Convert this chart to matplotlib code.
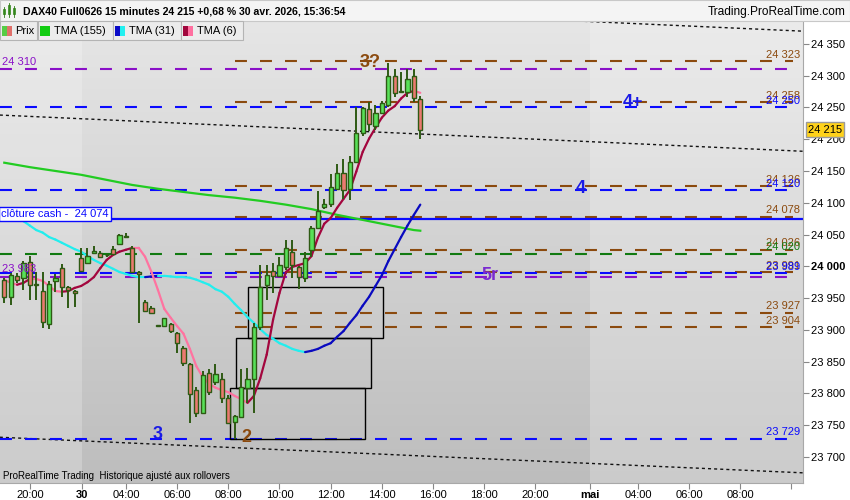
import matplotlib
matplotlib.use('Agg')
import matplotlib.pyplot as plt
import matplotlib.transforms as mtransforms
from matplotlib.collections import LineCollection
from matplotlib.patches import Rectangle
from matplotlib.colors import LinearSegmentedColormap
import numpy as np

plt.rcParams['font.family'] = ['Liberation Sans', 'DejaVu Sans']
plt.rcParams['lines.scale_dashes'] = False

# 15 minute bars, bar 0 = 19:00 on 29 Apr, last bar = 15:30 on 30 Apr
opens = [23979, 23952, 23985, 23982, 24007, 23971, 23961, 23909, 23977, 23997,
         23968, 23961, 24013, 24005, 24021, 24021, 24018, 24027, 24035, 24046,
         24029, 23991, 23944, 23935, 23906, 23906, 23909, 23895, 23872, 23847,
         23806, 23769, 23832, 23818, 23823, 23793, 23755, 23763, 23809, 23823,
         23905, 23971, 23993, 23985, 23999, 24023, 23999, 23982, 24026, 24060,
         24093, 24098, 24122, 24147, 24122, 24164, 24210, 24248, 24221, 24241,
         24254, 24300, 24274, 24274, 24300, 24263]
highs = [23982, 23990, 23990, 24008, 24016, 23991, 23991, 23977, 23988, 24004,
         23969, 23963, 24029, 24029, 24032, 24024, 24020, 24032, 24051, 24052,
         24032, 23993, 23947, 23938, 23908, 23919, 23911, 23897, 23874, 23848,
         23810, 23835, 23838, 23847, 23832, 23798, 23766, 23838, 23840, 23911,
         24002, 24002, 24005, 24015, 24041, 24041, 24001, 24023, 24063, 24119,
         24106, 24145, 24161, 24169, 24174, 24251, 24251, 24259, 24254, 24260,
         24320, 24310, 24306, 24310, 24310, 24268]
lows = [23942, 23939, 23974, 23963, 23947, 23947, 23903, 23902, 23960, 23952,
        23935, 23936, 23993, 24004, 24020, 24013, 24015, 24018, 24034, 24045,
        23990, 23911, 23928, 23926, 23905, 23906, 23895, 23863, 23843, 23753,
        23763, 23768, 23798, 23813, 23785, 23752, 23729, 23761, 23785, 23769,
        23900, 23947, 23958, 23983, 23994, 23982, 23964, 23975, 24015, 24059,
        24090, 24093, 24120, 24106, 24104, 24163, 24205, 24213, 24215, 24240,
        24251, 24267, 24272, 24267, 24259, 24200]
closes = [23952, 23986, 23979, 24005, 23971, 23972, 23912, 23972, 23982, 23968,
          23963, 23958, 23993, 24016, 24024, 24015, 24017, 24019, 24049, 24047,
          23991, 23988, 23930, 23927, 23907, 23919, 23898, 23879, 23848, 23799,
          23769, 23829, 23802, 23831, 23793, 23753, 23765, 23810, 23823, 23905,
          23968, 23986, 23985, 24002, 24029, 24002, 23983, 24013, 24060, 24087,
          24098, 24125, 24147, 24120, 24164, 24210, 24249, 24224, 24241, 24257,
          24300, 24272, 24276, 24295, 24265, 24215]

tma6 = [23979, 23974, 23971, 23974, 23980, 23980, 23977, 23969, 23961, 23960,
        23961, 23966, 23969, 23975, 23983, 23997, 24010, 24018, 24023, 24026,
        24029, 24029, 24015, 23991, 23963, 23933, 23919, 23906, 23894, 23870,
        23843, 23826, 23815, 23809, 23805, 23802, 23796, 23791, 23785, 23796,
        23824, 23861, 23916, 23958, 23991, 23999, 24002, 24005, 24016, 24045,
        24067, 24076, 24092, 24106, 24120, 24149, 24180, 24201, 24218, 24234,
        24245, 24252, 24264, 24273, 24276, 24273]
tma31 = [24090, 24084, 24077, 24071, 24064, 24057, 24053, 24046, 24042, 24037,
         24032, 24027, 24023, 24016, 24010, 24005, 24001, 23996, 23991, 23988,
         23985, 23983, 23983, 23984, 23985, 23985, 23984, 23983, 23983, 23982,
         23979, 23975, 23971, 23964, 23960, 23952, 23941, 23931, 23920, 23911,
         23901, 23892, 23886, 23879, 23875, 23870, 23867, 23865, 23867, 23870,
         23875, 23879, 23889, 23898, 23911, 23923, 23938, 23952, 23969, 23986,
         24008, 24027, 24046, 24064, 24081, 24097]
tma155_bar = [0, 4, 8, 12, 16, 20, 24, 28, 32, 36, 40, 44, 48, 52, 56, 60, 64, 65]
tma155 = [24163, 24156, 24150, 24144, 24136, 24128, 24122, 24117, 24112, 24108,
          24103, 24097, 24090, 24081, 24073, 24065, 24057, 24056]

tick_pos = [4, 12.1, 19, 27, 35, 43, 51, 59, 67, 75, 83, 91.5, 99, 107, 115, 123]
tick_labels = ['20:00', '30', '04:00', '06:00', '08:00', '10:00', '12:00', '14:00',
               '16:00', '18:00', '20:00', 'mai', '04:00', '06:00', '08:00', '']

brown_levels = [24323, 24258, 24126, 24078, 24026, 23991, 23927, 23904]
blue_levels = [24250, 24120, 23989, 23729]
purple_levels = [24310, 23983]
green_levels = [24020]
cash_close = 24074
last_price = 24215

chan_x = [-0.7, 124.8]
chan_top = [24427, 24370]
chan_mid = [24238, 24181]
chan_low = [23731, 23675]

box_left = [38.1, 36.2, 35.2]
box_right = [59.2, 57.3, 56.3]
box_low = [23887, 23808, 23728]
box_high = [23967, 23887, 23808]

wave_text = ['3?', '4+', '4', '5r', '3', '2']
wave_bar = [57.1, 98.2, 90.0, 75.9, 24.0, 37.8]
wave_price = [24321, 24257, 24123, 23986, 23736, 23730]

BROWN = '#8b4a0e'
BLUE = '#0a0aff'
PURPLE = '#8a10c8'
GREEN = '#117a11'
WAVE_COL = {'3?': '#8b4a0e', '4+': '#1a1ae6', '4': '#1a1ae6', '5r': '#7a2ad0',
            '3': '#1a1ae6', '2': '#8b4a0e'}


def fmt(v):
    v = int(round(v))
    return f"{v // 1000} {v % 1000:03d}"


fig = plt.figure(figsize=(8.5, 5), dpi=100, facecolor='white')
ax = fig.add_axes([0, 17 / 500, 803 / 850, 462 / 500])
XMIN, XMAX = -0.67, 124.8
YMIN, YMAX = 23659, 24386

# background gradient + lighter out-of-day bands
cmap = LinearSegmentedColormap.from_list('bg', ['#bdbdbd', '#e6e6e6'])
ax.imshow(np.linspace(0, 1, 256).reshape(-1, 1), extent=[XMIN, XMAX, YMIN, YMAX],
          origin='lower', aspect='auto', cmap=cmap, zorder=0)
ax.axvspan(XMIN, 12.1, color='white', alpha=0.22, lw=0, zorder=0.5)
ax.axvspan(91.5, XMAX, color='white', alpha=0.22, lw=0, zorder=0.5)

# channel lines
for ys in (chan_top, chan_mid, chan_low):
    ax.plot(chan_x, ys, color='#111111', lw=1, dashes=(2.2, 2.2), zorder=2)

# horizontal levels
LEND = 123.2
dash = (8.6, 9.4)
for v in brown_levels:
    ax.plot([36.0, LEND], [v, v], color=BROWN, lw=1.5, dashes=dash, zorder=2)
for v in purple_levels:
    ax.plot([XMIN, LEND], [v, v], color=PURPLE, lw=1.5, dashes=dash, zorder=2)
for v in green_levels:
    ax.plot([XMIN, LEND], [v, v], color=GREEN, lw=1.5, dashes=dash, zorder=2)
for v in blue_levels:
    ax.plot([XMIN, LEND], [v, v], color=BLUE, lw=1.5, dashes=dash, zorder=2)
ax.axhline(cash_close, color=BLUE, lw=1.6, zorder=2.5)

# boxes
for l, r, lo, hi in zip(box_left, box_right, box_low, box_high):
    ax.add_patch(Rectangle((l, lo), r - l, hi - lo, fill=False, ec='black', lw=1, zorder=2.2))

# TMA 155
ax.plot(tma155_bar, tma155, color='#22cc22', lw=1.6, zorder=3)


def two_tone(vals, up, down):
    x = np.arange(len(vals))
    segs = [[(x[i], vals[i]), (x[i + 1], vals[i + 1])] for i in range(len(vals) - 1)]
    cols = [up if vals[i + 1] > vals[i] else down for i in range(len(vals) - 1)]
    ax.add_collection(LineCollection(segs, colors=cols, linewidths=1.6, zorder=3,
                                     capstyle='round'))


two_tone(tma31, '#0a0ac0', '#22eeee')

# candles
idx = np.arange(len(closes))
WICK = '#2e5a14'
ax.vlines(idx, lows, highs, color=WICK, lw=1.4, zorder=4)
for i in idx:
    o, c = opens[i], closes[i]
    col = '#58e058' if c >= o else '#ea7a70'
    ax.add_patch(Rectangle((i - 0.34, min(o, c)), 0.68, max(abs(c - o), 1.2),
                           fc=col, ec=WICK, lw=1.0, zorder=4.5))

two_tone(tma6, '#a3063e', '#ff73a0')

# right-side level labels
tb = mtransforms.blended_transform_factory(ax.transAxes, ax.transData)
for v in brown_levels:
    ax.annotate(fmt(v), (124.3, v), xytext=(0, 1), textcoords='offset points',
                ha='right', va='bottom', fontsize=8, color=BROWN, zorder=6)
for v in green_levels:
    ax.annotate(fmt(v), (124.3, v), xytext=(0, 1), textcoords='offset points',
                ha='right', va='bottom', fontsize=8, color=GREEN, zorder=6)
for v in blue_levels:
    ax.annotate(fmt(v), (124.3, v), xytext=(0, 1), textcoords='offset points',
                ha='right', va='bottom', fontsize=8, color=BLUE, zorder=6)
for v in purple_levels:
    ax.annotate(fmt(v), (-0.4, v), xytext=(0, 2), textcoords='offset points',
                ha='left', va='bottom', fontsize=8, color=PURPLE, zorder=6)

ax.text(0.001, cash_close, 'clôture cash -  ' + fmt(cash_close), transform=tb,
        ha='left', va='bottom', fontsize=8, color=BLUE, zorder=7,
        bbox=dict(boxstyle='square,pad=0.2', fc='white', ec=BLUE, lw=1))

for t, bx, py in zip(wave_text, wave_bar, wave_price):
    ax.text(bx, py, t, ha='center', va='center', fontsize=13, fontweight='bold',
            color=WAVE_COL[t], zorder=6)

ax.text(1.006, last_price, fmt(last_price), transform=tb, ha='left', va='center',
        fontsize=8, color='black', zorder=8, clip_on=False,
        bbox=dict(boxstyle='square,pad=0.2', fc='#ffd21a', ec='#9a9a9a', lw=1))

# axes
ax.set_xlim(XMIN, XMAX)
ax.set_ylim(YMIN, YMAX)
ax.yaxis.tick_right()
yt = list(range(23700, 24351, 50))
ax.set_yticks(yt)
ax.set_yticklabels([fmt(v) for v in yt])
for lab, v in zip(ax.get_yticklabels(), yt):
    if v == 24000:
        lab.set_fontweight('bold')
        lab.set_fontsize(9)
ax.set_xticks(tick_pos)
ax.set_xticklabels(tick_labels)
for lab in ax.get_xticklabels():
    if lab.get_text() in ('30', 'mai'):
        lab.set_fontweight('bold')
        lab.set_fontsize(9)
ax.tick_params(axis='y', length=4, width=0.8, color='#888888', labelsize=8, pad=2)
ax.tick_params(axis='x', length=4, width=0.8, color='#888888', labelsize=8, pad=1)
for s in ('left', 'top'):
    ax.spines[s].set_visible(False)
for s in ('right', 'bottom'):
    ax.spines[s].set_color('#a8a8a8')

# overlay in figure pixels: title bar, legend, footer
ov = fig.add_axes([0, 0, 1, 1], zorder=10)
ov.set_xlim(0, 850)
ov.set_ylim(500, 0)
ov.axis('off')
ov.patch.set_alpha(0)
ov.add_patch(Rectangle((0, 0), 850, 21, fc='#f4f4f4', ec='#c8c8c8', lw=0.8))
for bx, bh in [(4, 8), (9, 12), (14, 9)]:
    ov.add_patch(Rectangle((bx - 1.2, 17 - bh), 2.4, bh - 3, fc='#55cc44', ec='#2e7a14', lw=0.5))
    ov.plot([bx, bx], [17 - bh - 2, 17], color='#2e7a14', lw=0.6)
ov.text(23, 11.5, 'DAX40 Full0626 15 minutes 24 215 +0,68 % 30 avr. 2026, 15:36:54',
        fontsize=7.6, fontweight='bold', va='center', ha='left')
ov.text(846, 11.5, 'Trading.ProRealTime.com', fontsize=8.6, va='center', ha='right')

legend = [(0, 37, 'Prix', ['#55cc44', '#e0706a'], 15),
          (38, 75, 'TMA (155)', ['#11cc11'], 54),
          (113, 68, 'TMA (31)', ['#0a0ac8', '#22f0f0'], 129),
          (181, 62, 'TMA (6)', ['#a0063c', '#ff70a0'], 197)]
for x0, w, txt, cols, tx in legend:
    ov.add_patch(Rectangle((x0, 21), w, 19, fc='#ececec', ec='#b4b4b4', lw=0.8))
    sw = 10 / len(cols)
    for k, c in enumerate(cols):
        ov.add_patch(Rectangle((x0 + 2 + k * sw, 26), sw, 10, fc=c, lw=0))
    ov.text(tx, 31, txt, fontsize=8, va='center', ha='left')

ov.text(3, 476, 'ProRealTime Trading  Historique ajusté aux rollovers', fontsize=7,
        va='center', ha='left')

fig.savefig('out.png', dpi=100, facecolor='white')
